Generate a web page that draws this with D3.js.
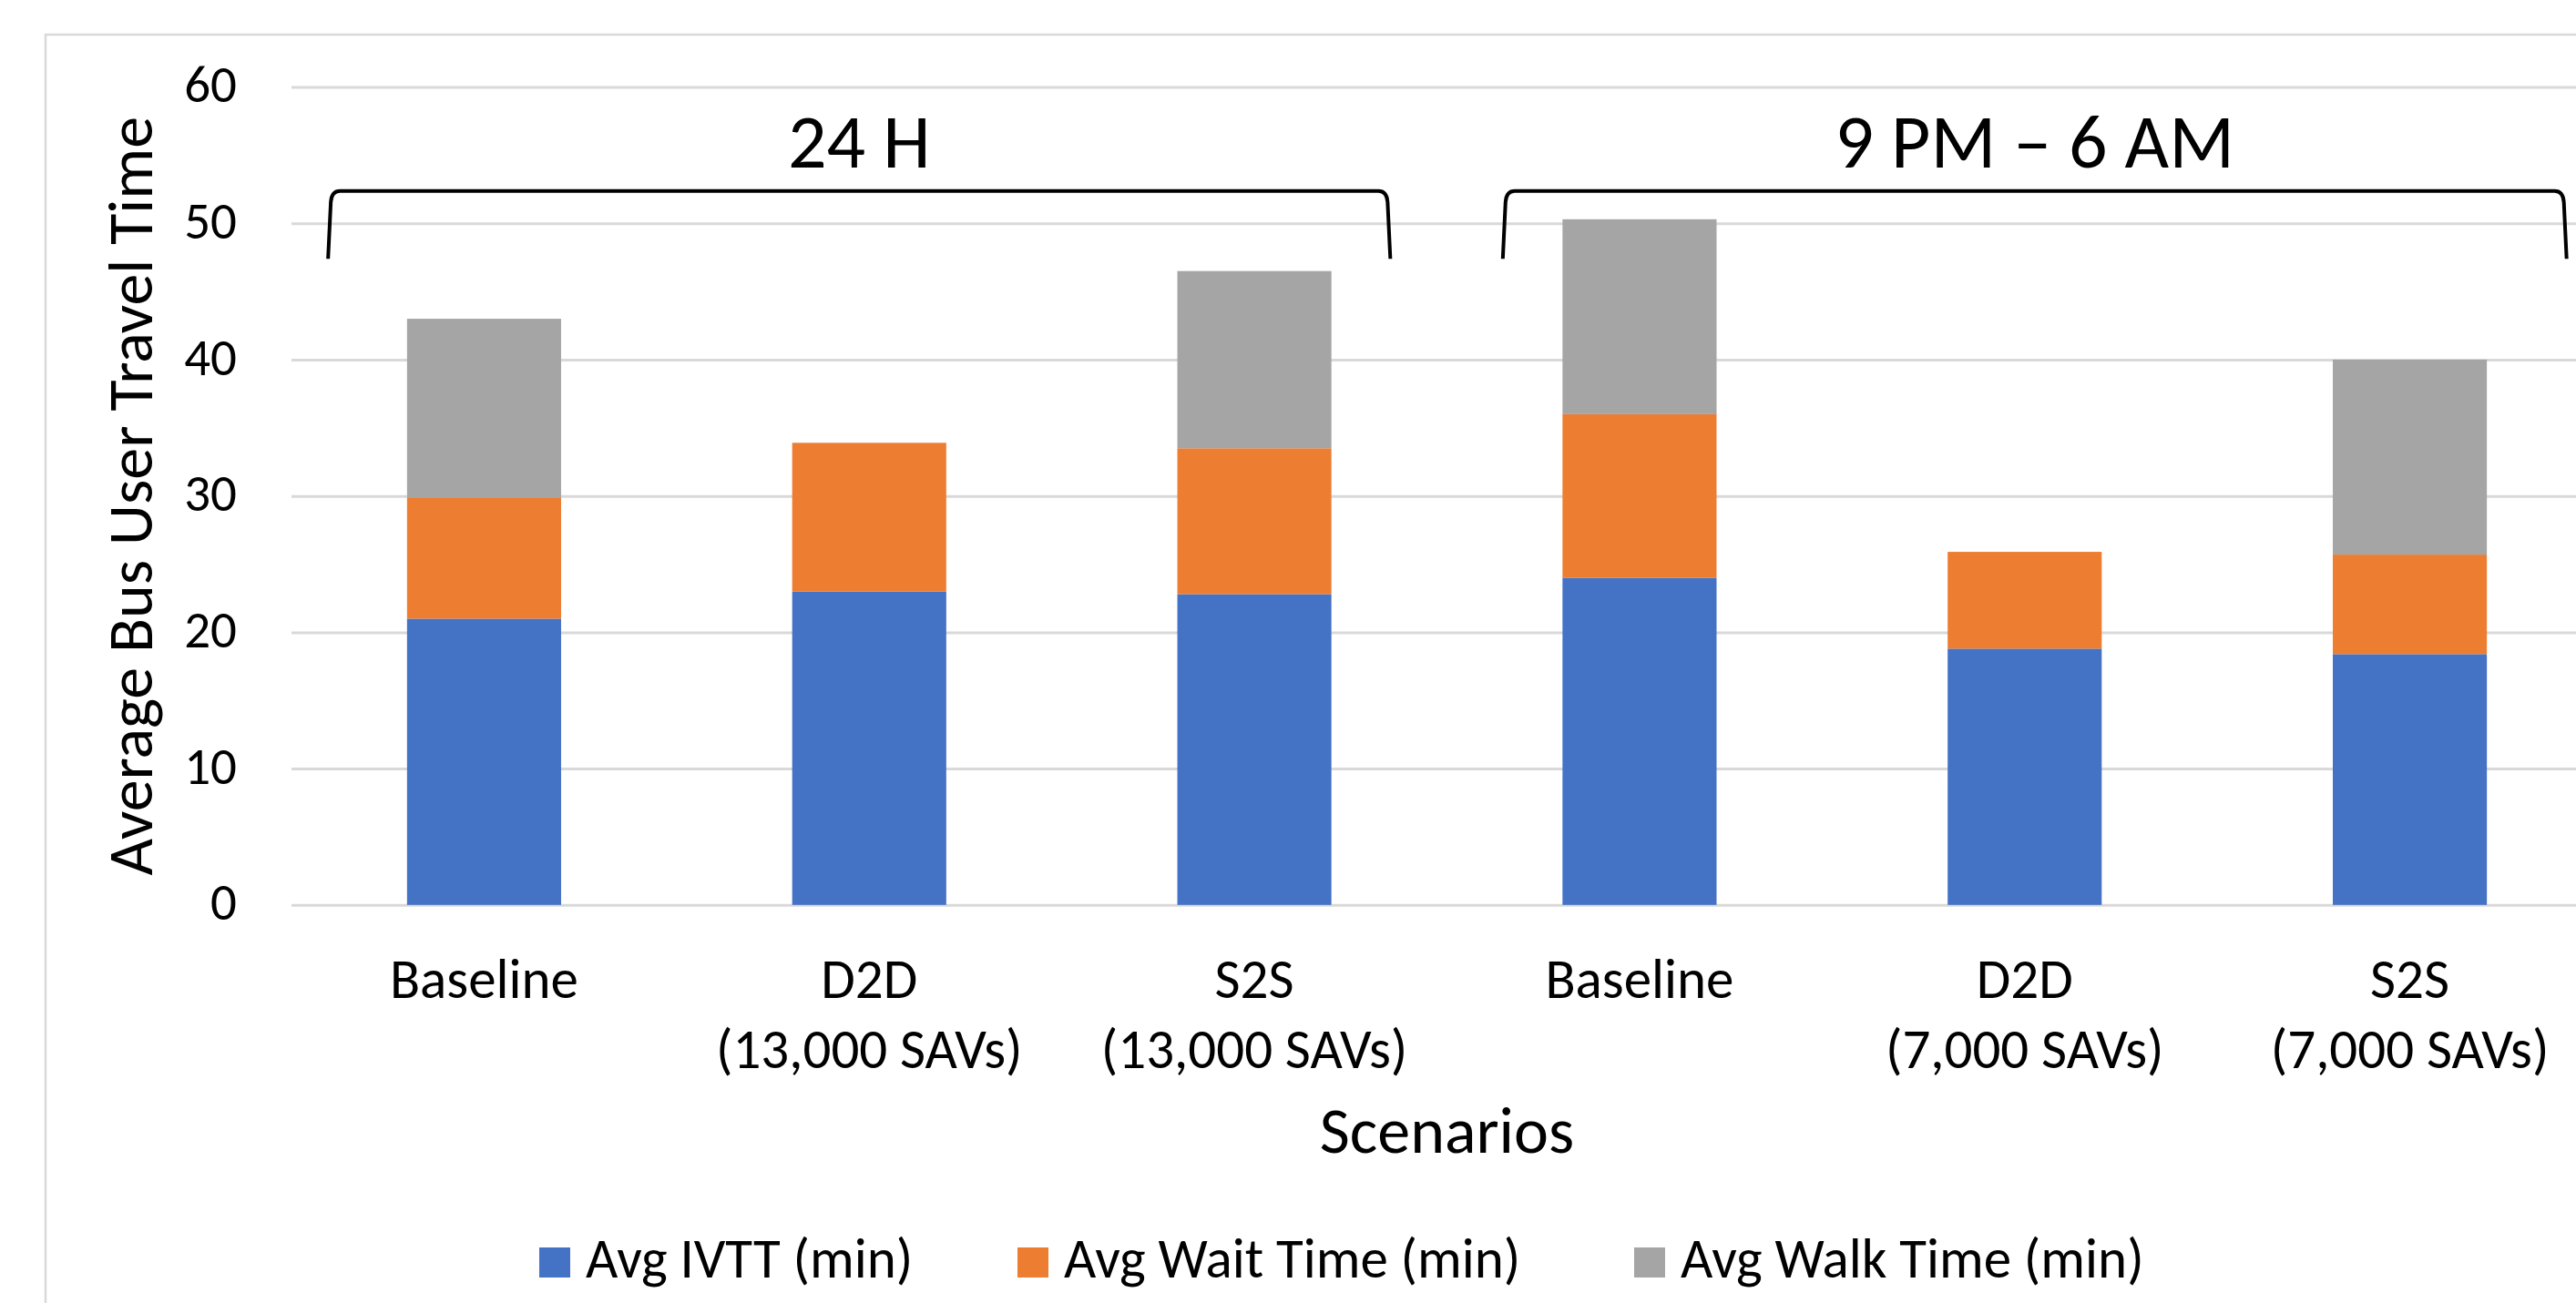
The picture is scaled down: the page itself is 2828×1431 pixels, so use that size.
<!DOCTYPE html>
<html>
<head>
<meta charset="utf-8">
<script src="https://cdn.jsdelivr.net/npm/d3@7"></script>
<style>
  body { margin: 0; background: #fff; }
  svg { display: block; font-family: Carlito, Calibri, Lato, sans-serif; }
</style>
</head>
<body>
<div id="chart"></div>
<script>
var svgWidth = 2828;
var svgHeight = 1431;

// chart data
var scenarios = ["Baseline", "D2D", "S2S", "Baseline", "D2D", "S2S"];
var fleetNotes = ["", "(13,000 SAVs)", "(13,000 SAVs)", "", "(7,000 SAVs)", "(7,000 SAVs)"];
var ivtt = [21.0, 23.0, 22.8, 24.0, 18.8, 18.4];
var waitTime = [8.9, 10.9, 10.7, 12.0, 7.1, 7.3];
var walkTime = [13.1, 0, 13.0, 14.3, 0, 14.3];
var seriesNames = ["Avg IVTT (min)", "Avg Wait Time (min)", "Avg Walk Time (min)"];
var yTicks = [0, 10, 20, 30, 40, 50, 60];
var periodLabels = ["24 H", "9 PM \u2013 6 AM"];
var periodFirst = [0, 3];
var periodLast = [2, 5];

var colors = ["#4472C4", "#ED7D31", "#A5A5A5"];

var plot = { left: 320, right: 2857, top: 95.6, bottom: 993.8 };

var svg = d3.select("#chart")
  .append("svg")
  .attr("width", svgWidth)
  .attr("height", svgHeight);

// outer chart frame (cropped at right and bottom in the original)
svg.append("rect")
  .attr("x", 50)
  .attr("y", 38)
  .attr("width", 2900)
  .attr("height", 1500)
  .attr("fill", "#fff")
  .attr("stroke", "#d9d9d9")
  .attr("stroke-width", 2.5);

var rows = scenarios.map(function(s, i) {
  return { idx: i, ivtt: ivtt[i], wait: waitTime[i], walk: walkTime[i] };
});

var xScale = d3.scaleBand()
  .domain(rows.map(function(d) { return d.idx; }))
  .range([plot.left, plot.right])
  .paddingInner(0.6)
  .paddingOuter(0.3);

var yScale = d3.scaleLinear()
  .domain([0, 60])
  .range([plot.bottom, plot.top]);

// y axis: gridlines + labels
var leftAxis = d3.axisLeft(yScale)
  .tickValues(yTicks)
  .tickSizeInner(-(plot.right - plot.left))
  .tickSizeOuter(0)
  .tickPadding(60);

var yAxisG = svg.append("g")
  .attr("transform", `translate(${plot.left}, 0)`)
  .call(leftAxis);

yAxisG.select(".domain").remove();
yAxisG.selectAll(".tick line")
  .attr("stroke", "#d9d9d9")
  .attr("stroke-width", 3);
yAxisG.selectAll(".tick text")
  .attr("dy", 16)
  .attr("fill", "#000")
  .style("font-family", "Carlito, Calibri, Lato, sans-serif")
  .style("font-size", "57px");

// stacked bars
var stack = d3.stack().keys(["ivtt", "wait", "walk"]);
var stacked = stack(rows);

svg.append("g")
  .selectAll("g")
  .data(stacked)
  .enter()
  .append("g")
  .attr("fill", function(d, i) { return colors[i]; })
  .selectAll("rect")
  .data(function(d) { return d.filter(function(p) { return p[1] > p[0]; }); })
  .enter()
  .append("rect")
  .attr("x", function(d) { return xScale(d.data.idx); })
  .attr("width", xScale.bandwidth())
  .attr("y", function(d) { return yScale(d[1]); })
  .attr("height", function(d) { return yScale(d[0]) - yScale(d[1]); });

// category labels (two lines)
var xLabels = svg.append("g")
  .selectAll("text")
  .data(rows)
  .enter()
  .append("text")
  .attr("text-anchor", "middle")
  .style("font-size", "61px")
  .attr("fill", "#000");

xLabels.append("tspan")
  .attr("x", function(d) { return xScale(d.idx) + xScale.bandwidth() / 2; })
  .attr("y", 1096)
  .text(function(d) { return scenarios[d.idx]; });

xLabels.append("tspan")
  .attr("x", function(d) { return xScale(d.idx) + xScale.bandwidth() / 2; })
  .attr("y", 1173)
  .text(function(d) { return fleetNotes[d.idx]; });

// axis titles
svg.append("text")
  .attr("x", (plot.left + plot.right) / 2)
  .attr("y", 1266)
  .attr("text-anchor", "middle")
  .style("font-size", "72px")
  .text("Scenarios");

svg.append("text")
  .attr("transform", `translate(167, ${(plot.top + plot.bottom) / 2}) rotate(-90)`)
  .attr("text-anchor", "middle")
  .style("font-size", "70px")
  .text("Average Bus User Travel Time");

// period brackets
var step = xScale.step();
var leftOff = [-0.405, -0.355];
var rightOff = [0.353, 0.407];
var yTop = yScale(52.37);
var yBot = yScale(47.4);

periodLabels.forEach(function(label, i) {
  var c0 = xScale(periodFirst[i]) + xScale.bandwidth() / 2;
  var c1 = xScale(periodLast[i]) + xScale.bandwidth() / 2;
  var x0 = c0 + leftOff[i] * step;
  var x1 = c1 + rightOff[i] * step;

  var p = d3.path();
  p.moveTo(x0, yBot);
  p.lineTo(x0 + 3, yTop + 12);
  p.quadraticCurveTo(x0 + 4, yTop, x0 + 13, yTop);
  p.lineTo(x1 - 13, yTop);
  p.quadraticCurveTo(x1 - 4, yTop, x1 - 3, yTop + 12);
  p.lineTo(x1, yBot);

  svg.append("path")
    .attr("d", p.toString())
    .attr("fill", "none")
    .attr("stroke", "#000")
    .attr("stroke-width", 4);

  svg.append("text")
    .attr("x", (x0 + x1) / 2)
    .attr("y", 184)
    .attr("text-anchor", "middle")
    .style("font-size", "84px")
    .text(label);
});

// legend
var legendX = [592, 1117, 1794];
var legend = svg.append("g")
  .selectAll("g")
  .data(seriesNames)
  .enter()
  .append("g")
  .attr("transform", function(d, i) { return `translate(${legendX[i]}, 1370)`; });

legend.append("rect")
  .attr("width", 34)
  .attr("height", 33)
  .attr("fill", function(d, i) { return colors[i]; });

legend.append("text")
  .attr("x", 51)
  .attr("y", 33)
  .style("font-size", "61px")
  .text(function(d) { return d; });
</script>
</body>
</html>
